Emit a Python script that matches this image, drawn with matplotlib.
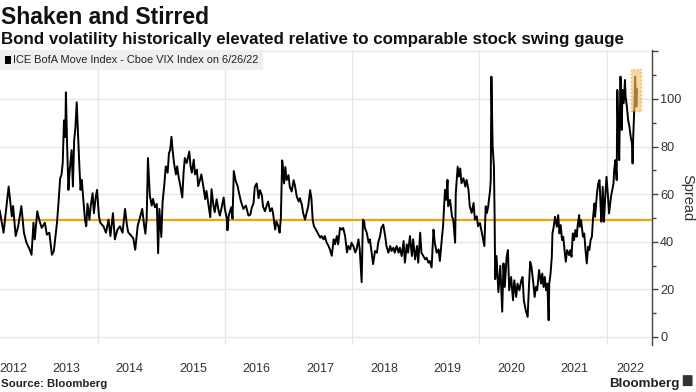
import matplotlib.pyplot as plt
from matplotlib.patches import Rectangle, FancyBboxPatch

plt.rcParams['font.family'] = ['Liberation Sans', 'DejaVu Sans']

# ICE BofA MOVE minus Cboe VIX (decimal years)
years = [
    2012.46, 2012.52, 2012.60, 2012.65, 2012.67, 2012.71, 2012.75, 2012.80, 2012.84, 2012.88,
    2012.93, 2012.96, 2012.99, 2013.01, 2013.05, 2013.08, 2013.12, 2013.17, 2013.20, 2013.24,
    2013.28, 2013.31, 2013.36, 2013.38, 2013.41, 2013.43, 2013.45, 2013.47, 2013.49, 2013.50,
    2013.52, 2013.54, 2013.56, 2013.59, 2013.61, 2013.63, 2013.65, 2013.67, 2013.69, 2013.71,
    2013.73, 2013.75, 2013.77, 2013.80, 2013.82, 2013.84, 2013.87, 2013.89, 2013.92, 2013.94,
    2013.97, 2013.99, 2014.02, 2014.04, 2014.09, 2014.13, 2014.17, 2014.20, 2014.24, 2014.27,
    2014.31, 2014.35, 2014.39,
    2014.43, 2014.46, 2014.48, 2014.52, 2014.56, 2014.59, 2014.63, 2014.66, 2014.70, 2014.73,
    2014.75, 2014.77, 2014.79, 2014.81, 2014.82, 2014.85, 2014.87, 2014.90, 2014.93, 2014.95,
    2014.97, 2015.00, 2015.02, 2015.05, 2015.07, 2015.10, 2015.12, 2015.14, 2015.16, 2015.18,
    2015.20, 2015.23, 2015.25, 2015.27, 2015.30, 2015.33, 2015.35, 2015.37, 2015.40, 2015.44,
    2015.46, 2015.48, 2015.51, 2015.53, 2015.56, 2015.58, 2015.61, 2015.63, 2015.66, 2015.69,
    2015.71, 2015.74, 2015.77, 2015.79, 2015.82, 2015.84, 2015.87, 2015.90, 2015.92, 2015.95,
    2015.98, 2016.00, 2016.03, 2016.04, 2016.06, 2016.10, 2016.12, 2016.14, 2016.17, 2016.20,
    2016.22, 2016.25, 2016.29, 2016.33, 2016.37,
    2016.40, 2016.42, 2016.45, 2016.47, 2016.50, 2016.53, 2016.55, 2016.58, 2016.60, 2016.63,
    2016.66, 2016.68, 2016.71, 2016.74, 2016.76, 2016.79, 2016.81, 2016.84, 2016.86, 2016.88,
    2016.90, 2016.91, 2016.93, 2016.95, 2016.97, 2017.00, 2017.02, 2017.05, 2017.08, 2017.10,
    2017.13, 2017.16, 2017.18, 2017.21, 2017.23, 2017.26, 2017.29, 2017.31, 2017.34, 2017.36,
    2017.38, 2017.40, 2017.43, 2017.47, 2017.50, 2017.52, 2017.55, 2017.57, 2017.60, 2017.63,
    2017.65, 2017.68, 2017.71, 2017.73, 2017.76, 2017.78, 2017.81, 2017.84, 2017.86, 2017.89,
    2017.92, 2017.94, 2017.97, 2017.99, 2018.02, 2018.05, 2018.07, 2018.10, 2018.12, 2018.15,
    2018.17, 2018.19, 2018.20, 2018.23, 2018.26, 2018.28, 2018.31, 2018.33,
    2018.36, 2018.39, 2018.41, 2018.44, 2018.46, 2018.49, 2018.52, 2018.54, 2018.57, 2018.60,
    2018.62, 2018.65, 2018.67, 2018.70, 2018.73, 2018.75, 2018.78, 2018.81, 2018.83, 2018.86,
    2018.88, 2018.91, 2018.94, 2018.96, 2018.99, 2019.02, 2019.04, 2019.07, 2019.09, 2019.12,
    2019.15, 2019.17, 2019.20, 2019.22, 2019.25, 2019.28, 2019.30, 2019.33, 2019.36, 2019.38,
    2019.41, 2019.43, 2019.46, 2019.48, 2019.50, 2019.51, 2019.54, 2019.57, 2019.59, 2019.62,
    2019.63, 2019.66, 2019.68, 2019.70, 2019.72, 2019.75, 2019.78, 2019.80, 2019.83, 2019.85,
    2019.88, 2019.91, 2019.93, 2019.96, 2019.98, 2020.01, 2020.04, 2020.06, 2020.08, 2020.10,
    2020.12, 2020.14, 2020.17, 2020.18, 2020.19, 2020.21, 2020.23, 2020.24, 2020.25, 2020.27,
    2020.30, 2020.33, 2020.36,
    2020.38, 2020.40, 2020.43, 2020.45, 2020.47, 2020.50, 2020.53, 2020.55, 2020.58, 2020.60,
    2020.63, 2020.66, 2020.68, 2020.70, 2020.73, 2020.76, 2020.78, 2020.80, 2020.82, 2020.85,
    2020.87, 2020.89, 2020.91, 2020.94, 2020.97, 2020.99, 2021.01, 2021.03, 2021.05, 2021.07,
    2021.09, 2021.10, 2021.12, 2021.14, 2021.15, 2021.17, 2021.19, 2021.22, 2021.24, 2021.26,
    2021.28, 2021.30, 2021.32, 2021.34, 2021.36, 2021.38, 2021.41, 2021.43, 2021.45, 2021.47,
    2021.49, 2021.51, 2021.53, 2021.55, 2021.57, 2021.58, 2021.60, 2021.63, 2021.65, 2021.67,
    2021.69, 2021.71, 2021.73, 2021.75, 2021.77, 2021.79, 2021.81, 2021.82, 2021.85, 2021.87,
    2021.89, 2021.91, 2021.92, 2021.94, 2021.96, 2021.98, 2022.00, 2022.02, 2022.04, 2022.07,
    2022.09, 2022.11, 2022.12, 2022.14, 2022.16, 2022.17, 2022.19, 2022.20, 2022.21, 2022.22,
    2022.24, 2022.25, 2022.27, 2022.29, 2022.30, 2022.32, 2022.34, 2022.36, 2022.38, 2022.40,
    2022.41, 2022.42, 2022.44, 2022.45, 2022.47, 2022.48,
]
spread = [
    53.0, 43.8, 63.2, 50.7, 55.0, 42.4, 46.5, 55.0, 43.8, 39.6,
    36.8, 34.5, 48.0, 41.0, 52.8, 49.3, 45.8, 48.0, 43.0, 43.8,
    34.5, 36.0, 48.0, 55.0, 66.7, 68.0, 73.0, 91.0, 84.0, 102.8,
    79.9, 61.8, 70.0, 78.5, 63.2, 82.6, 88.0, 98.6, 85.4, 73.0,
    61.8, 66.0, 59.0, 49.3, 46.5, 56.0, 49.3, 55.0, 60.4, 52.0,
    59.0, 61.8, 50.7, 48.0, 46.5, 43.8, 49.3, 42.4, 52.0, 41.0,
    45.0, 46.5, 43.8,
    53.8, 46.9, 44.0, 42.8, 41.4, 36.6, 46.9, 49.7, 53.8, 46.9,
    43.4, 49.7, 75.2, 64.8, 59.3, 55.2, 58.0, 54.5, 55.9, 35.2,
    53.8, 42.0, 56.6, 64.8, 71.7, 69.0, 77.2, 78.6, 84.1, 77.9,
    73.1, 68.3, 71.7, 67.6, 63.4, 58.6, 69.0, 75.2, 73.1, 77.9,
    71.7, 69.0, 74.5, 68.3, 70.3, 63.4, 66.2, 68.3, 63.4, 57.9,
    61.4, 55.9, 50.3, 62.1, 55.2, 52.4, 57.9, 53.1, 51.0, 54.5,
    58.6, 53.8, 49.7, 44.8, 51.0, 54.5, 49.7, 69.7, 65.5, 63.4,
    60.7, 57.2, 53.8, 55.2, 51.0,
    51.4, 54.1, 56.2, 63.1, 64.5, 58.3, 61.7, 59.7, 54.8, 52.8,
    55.5, 56.9, 52.8, 54.1, 51.4, 45.1, 48.6, 46.5, 43.8, 50.0,
    74.2, 72.1, 64.5, 71.4, 65.9, 68.0, 63.1, 61.1, 65.9, 63.8,
    59.0, 56.9, 58.3, 55.5, 52.1, 49.3, 52.8, 54.8, 61.7, 58.3,
    49.3, 46.5, 45.1, 43.1, 41.7, 42.4, 41.0, 42.4, 39.6, 38.2,
    36.8, 34.1, 41.0, 38.9, 42.4, 38.9, 45.8, 45.1, 45.8, 42.4,
    35.5, 38.2, 36.8, 39.6, 38.2, 35.5, 36.8, 41.0, 36.8, 23.0,
    49.3, 48.6, 45.8, 43.8, 39.6, 41.0, 34.8, 30.6,
    36.1, 35.4, 39.6, 42.4, 45.8, 47.2, 42.4, 38.2, 35.4, 38.2,
    36.1, 37.5, 35.4, 38.2, 35.4, 37.5, 34.0, 40.3, 31.2, 38.9,
    35.4, 42.4, 34.0, 41.0, 32.6, 38.2, 31.2, 43.8, 35.4, 34.0,
    32.6, 33.3, 31.2, 31.9, 29.2, 45.1, 39.6, 35.4, 36.8, 31.9,
    41.0, 46.5, 61.8, 57.6, 66.0, 54.9, 57.6, 50.7, 49.3, 39.6,
    60.4, 71.5, 67.4, 70.8, 64.6, 66.7, 63.2, 66.0, 61.8, 54.9,
    52.1, 56.3, 49.3, 50.7, 46.5, 47.9, 43.8, 41.0, 38.2, 54.9,
    52.1, 54.9, 61.8, 66.0, 109.4, 80.0, 71.5, 52.1, 24.3, 34.0,
    18.8, 29.9, 10.6,
    30.9, 21.0, 33.7, 36.5, 19.6, 25.2, 15.4, 23.8, 16.8, 22.4,
    19.6, 23.8, 25.2, 15.4, 11.2, 8.4, 21.0, 31.6, 29.5, 22.4,
    16.8, 21.0, 19.6, 28.1, 22.4, 26.6, 21.0, 25.2, 19.6, 22.4,
    7.0, 22.4, 26.6, 33.7, 43.5, 46.3, 50.5, 46.3, 51.2, 43.5,
    47.0, 40.7, 42.1, 36.5, 31.6, 36.5, 34.4, 36.5, 33.7, 43.5,
    40.7, 44.9, 42.1, 47.7, 51.2, 46.3, 49.1, 42.1, 43.5, 36.5,
    30.9, 37.9, 36.5, 40.7, 42.1, 50.5, 56.1, 50.5, 60.3, 64.5,
    65.9, 53.3, 48.4, 63.1, 48.4, 58.9, 67.3, 60.3, 51.9, 58.9,
    61.7, 64.5, 70.1, 74.3, 65.9, 103.8, 79.9, 74.3, 94.0, 109.4,
    87.0, 103.8, 98.2, 108.0, 101.0, 96.8, 91.2, 88.4, 84.2, 81.3,
    72.9, 84.2, 98.2, 109.4, 96.8, 104.0,
]

threshold = 49
highlight_x = (2022.385, 2022.54)
highlight_y = (95, 112.5)

year_labels = ['2012', '2013', '2014', '2015', '2016', '2017',
               '2018', '2019', '2020', '2021', '2022']
year_label_pos = [2012.67, 2013.5, 2014.5, 2015.5, 2016.5, 2017.5,
                  2018.5, 2019.5, 2020.5, 2021.5, 2022.38]
grid_years = [2014, 2016, 2018, 2020, 2022]

fig = plt.figure(figsize=(6.96, 3.92), dpi=100)
ax = fig.add_axes([0.0, 0.1199, 0.9364, 0.7526])

ax.plot(years, spread, color='black', lw=1.4, zorder=3)
ax.axhline(threshold, color='#f0a30a', lw=1.6, zorder=2)
ax.add_patch(Rectangle((highlight_x[0], highlight_y[0]),
                       highlight_x[1] - highlight_x[0],
                       highlight_y[1] - highlight_y[0],
                       facecolor='#f6c26b', alpha=0.65, edgecolor='#e3952a',
                       linestyle=':', lw=1.0, zorder=4))

ax.set_xlim(2012.464, 2022.711)
ax.set_ylim(-3.4, 120.6)

for s in ['left', 'top', 'bottom']:
    ax.spines[s].set_visible(False)
ax.spines['right'].set_color('#444444')
ax.spines['right'].set_linewidth(1.0)

ax.yaxis.tick_right()
ax.set_yticks(range(0, 121, 20))
ax.set_yticklabels(['0', '20', '40', '60', '80', '100', ''])
ax.set_yticks(range(10, 120, 20), minor=True)
ax.tick_params(axis='y', which='major', length=4, width=1, color='#444444',
               pad=2, labelsize=9.2, labelcolor='#333333')
ax.tick_params(axis='y', which='minor', length=3, width=1, color='#444444')

ax.set_xticks(grid_years)
ax.set_xticklabels([])
ax.set_xticks(year_label_pos, minor=True)
ax.set_xticklabels(year_labels, minor=True)
ax.tick_params(axis='x', which='both', length=0, pad=13, labelsize=9,
               labelcolor='#333333')

ax.grid(True, which='major', color='#e6e6e6', lw=0.9, zorder=0)
ax.set_axisbelow(True)

fig.text(687 / 696, 0.496, 'Spread', rotation=270, fontsize=10.5,
         color='#333333', ha='center', va='center')

# legend strip
ax.add_patch(Rectangle((0, 0.932), 0.4036, 0.068, transform=ax.transAxes,
                       facecolor='#efefef', edgecolor='none', zorder=5,
                       clip_on=False))
ax.add_patch(Rectangle((0.0077, 0.9525), 0.0092, 0.027, transform=ax.transAxes,
                       facecolor='black', edgecolor='none', zorder=6,
                       clip_on=False))
ax.text(0.02, 0.966, 'ICE BofA Move Index - Cboe VIX Index on 6/26/22',
        transform=ax.transAxes, fontsize=7.9, color='#222222',
        va='center', ha='left', zorder=6)

fig.text(0.002, 0.9388, 'Shaken and Stirred', fontsize=16.5, fontweight='bold',
         color='#111111', va='baseline', ha='left')
fig.text(0.002, 0.8878,
         'Bond volatility historically elevated relative to comparable stock swing gauge',
         fontsize=12.2, fontweight='bold', color='#111111', va='baseline', ha='left')
fig.text(0.002, 0.012, 'Source: Bloomberg', fontsize=8.2, fontweight='bold',
         color='#222222', va='baseline', ha='left')
fig.text(0.976, 0.014, 'Bloomberg', fontsize=9.6, fontweight='bold',
         color='#222222', va='baseline', ha='right')
fig.patches.append(FancyBboxPatch((0.982, 0.016), 0.012, 0.026,
                                  boxstyle='round,pad=0.001',
                                  transform=fig.transFigure,
                                  facecolor='#333333', edgecolor='none'))

fig.savefig('out.png', dpi=100)
